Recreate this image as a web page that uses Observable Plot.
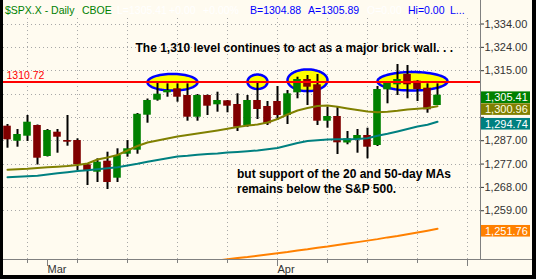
<!DOCTYPE html>
<html><head><meta charset="utf-8">
<script src="https://cdn.jsdelivr.net/npm/d3@7"></script>
<script src="https://cdn.jsdelivr.net/npm/@observablehq/plot@0.6"></script>
<style>
html,body{margin:0;padding:0;background:#000;}
#wrap{position:relative;width:536px;height:279px;background:#000;overflow:hidden;}
#inner{position:absolute;left:3px;top:0;width:529px;height:275px;background:#FFFBF0;}
#header{position:absolute;left:0;top:0;width:477px;height:18px;border-right:1px solid #808080;font:10.5px "Liberation Sans",Arial,sans-serif;}
#header span{position:absolute;top:4px;line-height:12px;white-space:nowrap;}
#chart{position:absolute;left:0;top:18px;}
#chart svg{display:block;}
</style></head>
<body><div id="wrap"><div id="inner"><div id="header"></div><div id="chart"></div></div></div>
<script>
// ---------- data ----------
const dates = ["2006-02-23","2006-02-24","2006-02-27","2006-02-28","2006-03-01","2006-03-02","2006-03-03",
"2006-03-06","2006-03-07","2006-03-08","2006-03-09","2006-03-10","2006-03-13","2006-03-14","2006-03-15",
"2006-03-16","2006-03-17","2006-03-20","2006-03-21","2006-03-22","2006-03-23","2006-03-24","2006-03-27",
"2006-03-28","2006-03-29","2006-03-30","2006-03-31","2006-04-03","2006-04-04","2006-04-05","2006-04-06",
"2006-04-07","2006-04-10","2006-04-11","2006-04-12","2006-04-13","2006-04-17","2006-04-18","2006-04-19",
"2006-04-20","2006-04-21","2006-04-24","2006-04-25","2006-04-26"];
const open  = [1292.96,1286.93,1288.94,1293.24,1280.79,1290.55,1287.21,1287.21,1277.45,1274.48,1278.90,1272.07,1281.71,1283.32,1297.37,1303.40,1306.37,1307.98,1305.29,1296.57,1305.29,1301.55,1303.16,1301.67,1293.24,1303.28,1300.87,1302.88,1297.25,1306.37,1311.71,1309.58,1294.96,1296.85,1286.21,1287.62,1289.22,1285.21,1307.57,1309.58,1313.72,1311.03,1308.22,1301.27];
const high  = [1293.64,1291.63,1297.25,1293.44,1291.63,1291.63,1297.25,1287.90,1277.86,1279.86,1282.51,1283.88,1287.21,1298.06,1303.88,1310.10,1309.98,1309.98,1309.98,1305.69,1305.49,1306.61,1303.28,1305.97,1305.29,1310.63,1302.88,1308.90,1307.29,1312.63,1313.32,1313.72,1300.59,1300.59,1290.83,1291.63,1292.15,1308.90,1310.40,1317.74,1317.33,1311.20,1309.98,1309.98];
const low   = [1284.12,1284.52,1286.81,1277.37,1280.59,1282.11,1284.92,1275.17,1269.14,1270.35,1267.54,1270.35,1280.51,1281.71,1294.16,1303.00,1304.60,1302.59,1294.96,1294.96,1297.25,1298.58,1298.34,1290.83,1292.55,1295.65,1293.24,1295.25,1293.64,1303.96,1301.27,1293.24,1292.15,1281.59,1285.49,1282.11,1279.86,1284.80,1301.95,1305.29,1303.96,1302.88,1298.18,1301.27];
const close = [1287.49,1289.62,1294.56,1280.10,1291.23,1288.54,1286.53,1277.45,1275.17,1278.50,1270.35,1281.19,1283.88,1297.74,1303.28,1305.81,1307.29,1304.60,1296.57,1305.29,1300.99,1303.28,1300.99,1292.55,1303.28,1299.66,1293.92,1297.25,1305.97,1311.71,1308.62,1294.96,1296.85,1286.29,1287.90,1289.22,1284.52,1307.70,1310.23,1311.71,1309.58,1307.70,1299.54,1305.41];
const ma20  = [1275.45,1275.65,1275.85,1276.17,1276.49,1276.69,1276.97,1277.37,1277.98,1279.58,1280.39,1281.39,1283.20,1285.00,1286.41,1287.21,1288.02,1288.82,1289.42,1290.02,1290.63,1291.23,1291.91,1292.64,1293.24,1293.64,1294.44,1295.85,1297.66,1299.26,1300.27,1301.07,1301.27,1300.75,1300.06,1299.46,1298.86,1298.58,1298.74,1299.14,1299.66,1299.94,1300.27,1300.96];
const ma50  = [1272.47,1272.68,1272.88,1273.08,1273.56,1274.08,1274.48,1274.96,1275.29,1275.69,1276.05,1276.49,1277.17,1277.86,1278.66,1279.38,1280.06,1280.79,1281.07,1281.47,1281.79,1281.99,1282.39,1282.60,1282.88,1283.20,1283.68,1284.20,1285.21,1286.21,1287.01,1287.29,1287.62,1287.74,1287.74,1287.82,1288.14,1289.10,1289.90,1290.83,1291.83,1292.84,1293.56,1294.74];
// 200-day MA: only the last days reach into the visible range
const ma200Start = 20;
const ma200 = [1238.6,1239.0,1239.5,1240.0,1240.4,1240.9,1241.4,1241.9,1242.4,1243.0,1243.5,1244.1,1244.6,1245.2,1245.8,1246.4,1247.0,1247.6,1248.3,1248.9,1249.6,1250.3,1251.0,1251.76];
const resistance = 1310.72;

const yTickValues = [1334, 1324.625, 1315.25, 1305.875, 1296.5, 1287.125, 1277.75, 1268.375, 1259];
// the 1,305 and 1,296 labels are hidden under the price boxes in the reference
const yTickLabels = ["1,334.00","1,324.00","1,315.00","","","1,287.00","1,277.00","1,268.00","1,259.00"];
const weekTickIndex = [2, 7, 12, 17, 22, 27, 32, 36, 41, 46];
const monthTickIndex = [4, 27, 46];
const monthTickLabels = ["Mar", "Apr", ""];

const highlightDay = [16.5, 25, 30, 40.5];
const highlightHalfDays = [2.5, 1, 2, 3.5];
const highlightLevel = [1310.6, 1310.8, 1311.4, 1311.0];
const highlightHalfRange = [3.35, 2.9, 4.35, 3.7];

const notes = ["The 1,310 level continues to act as a major brick wall. . .",
               "but support of the 20 and 50-day MAs",
               "remains below the S&P 500."];
const noteDay = [12.8, 22.95, 22.95];
const noteLevel = [1324.4, 1273.76, 1267.74];

const lastValues = [1305.41, 1300.96, 1294.74, 1251.76];
const headerTexts = ["$SPX.X - Daily","CBOE","L=1305.41","+0.00","+0.00%","B=1304.88","A=1305.89","O=0.00","Hi=0.00","L..."];

// ---------- styles / layout ----------
const GREEN = "#008000", RED = "#800000", OLIVE = "#808000", TEAL = "#008080", ORANGE = "#FF8000";
const boxFill = [GREEN, OLIVE, TEAL, ORANGE];
const boxText = ["#ffffff", "#ffffe0", "#ffffff", "#ffffff"];
const headerColor = [GREEN, GREEN, "#ffffff", "#ffffff", "#ffffff", "#0000ff", "#0000ff", "#ffffff", "#0000ff", "#0000ff"];
const headerX = [2, 79, 114, 166, 200, 247, 305, 364, 405, 447];
const FONT = '"Liberation Sans", Arial, sans-serif';

const header = document.getElementById("header");
headerTexts.forEach((t, k) => {
  const s = document.createElement("span");
  s.textContent = t; s.style.left = headerX[k] + "px"; s.style.color = headerColor[k];
  header.appendChild(s);
});

const idx = d3.range(dates.length);
const ellipsePts = highlightDay.flatMap((c, k) => d3.range(0, 73).map(j => {
  const t = j / 72 * 2 * Math.PI;
  return {k, x: c + highlightHalfDays[k] * Math.cos(t), y: highlightLevel[k] + highlightHalfRange[k] * Math.sin(t)};
}));
const ma200Idx = d3.range(ma200.length).map(j => j + ma200Start);

const ns = "http://www.w3.org/2000/svg";
function el(tag, attrs, parent) {
  const e = document.createElementNS(ns, tag);
  for (const k in attrs) e.setAttribute(k, attrs[k]);
  if (parent) parent.appendChild(e);
  return e;
}

function xAxisDecor(index, scales, values, dimensions) {
  const {width, height, marginRight, marginBottom} = dimensions;
  const g = el("g", {});
  const yB = height - marginBottom;
  const xR = width - marginRight;
  el("line", {x1: 0, x2: width, y1: yB + 0.5, y2: yB + 0.5, stroke: "#808080"}, g);
  el("line", {x1: xR + 0.5, x2: xR + 0.5, y1: -18, y2: yB, stroke: "#808080"}, g);
  for (const w of weekTickIndex) {
    const x = Math.round(scales.x(w)) + 0.5;
    el("line", {x1: x, x2: x, y1: yB, y2: yB + 4, stroke: "#808080"}, g);
  }
  monthTickIndex.forEach((m, k) => {
    const x = Math.round(scales.x(m)) + 0.5;
    el("line", {x1: x, x2: x, y1: yB, y2: yB + 7, stroke: "#808080"}, g);
    const t = el("text", {x: x, y: yB + 14, fill: "#333", "font-size": 11, "font-family": FONT, "text-anchor": "start"}, g);
    t.textContent = monthTickLabels[k];
  });
  return g;
}

function priceBoxes(index, scales, values, dimensions) {
  const g = el("g", {id: "price-boxes"});
  const x0 = dimensions.width - dimensions.marginRight + 1;
  const w = 49, h = 11.6;
  const order = d3.sort(d3.range(lastValues.length), k => -lastValues[k]);
  let prev = -Infinity;
  for (const k of order) {
    let cy = scales.y(lastValues[k]) + 2.5;
    if (cy < prev + h + 0.3) cy = prev + h + 0.3;
    prev = cy;
    el("rect", {x: x0, y: cy - h / 2, width: w, height: h, fill: boxFill[k]}, g);
    const t = el("text", {x: x0 + 4, y: cy, dy: "0.36em", fill: boxText[k], "font-size": 11,
      "font-family": FONT, "text-anchor": "start"}, g);
    t.textContent = d3.format(",.2f")(lastValues[k]);
  }
  return g;
}

const chart = Plot.plot({
  width: 529, height: 257,
  marginTop: 0, marginLeft: 0, marginRight: 52, marginBottom: 16,
  style: {background: "none", fontFamily: FONT, fontSize: "11px", color: "#333", overflow: "visible"},
  x: {domain: [-0.4, 47.3], axis: null},
  y: {domain: [1239.42, 1336.21], axis: "right", ticks: yTickValues,
      tickFormat: d => yTickLabels[yTickValues.indexOf(d)] ?? "", tickSize: 3, tickPadding: 1, label: null},
  marks: [
    Plot.ruleY(yTickValues, {stroke: "#a8a8a8", strokeDasharray: "1,3", shapeRendering: "crispEdges"}),
    Plot.ruleX(weekTickIndex, {stroke: "#a8a8a8", strokeDasharray: "1,3", shapeRendering: "crispEdges"}),
    Plot.line(ellipsePts, {x: "x", y: "y", z: "k", fill: "#ffff00", stroke: "#0000ff", strokeWidth: 2.5}),
    Plot.ruleX(idx, {x: i => i, y1: i => low[i], y2: i => high[i], stroke: "#000", strokeWidth: 2}),
    Plot.rect(idx, {x1: i => i - 0.38, x2: i => i + 0.38, y1: i => open[i], y2: i => close[i],
      fill: i => close[i] >= open[i] ? GREEN : RED}),
    Plot.line(idx, {x: i => i, y: i => ma50[i], stroke: TEAL, strokeWidth: 2}),
    Plot.line(idx, {x: i => i, y: i => ma20[i], stroke: OLIVE, strokeWidth: 2}),
    Plot.line(ma200Idx, {x: i => i, y: i => ma200[i - ma200Start], stroke: ORANGE, strokeWidth: 2, clip: true}),
    Plot.ruleY([resistance], {stroke: "#ff0000", strokeWidth: 2}),
    Plot.text([resistance], {y: d => d, frameAnchor: "left", dx: 3, dy: -6.5, textAnchor: "start",
      text: d => d.toFixed(2), fill: "#ff0000", fontSize: 10.5}),
    Plot.text(notes, {x: (d, i) => noteDay[i], y: (d, i) => noteLevel[i], text: d => d,
      textAnchor: "start", fontWeight: "bold", fontSize: 12, fill: "#000"}),
    xAxisDecor,
    priceBoxes
  ]
});
document.getElementById("chart").appendChild(chart);
const pb = chart.querySelector("#price-boxes");
if (pb) chart.appendChild(pb);
</script>
</body></html>
